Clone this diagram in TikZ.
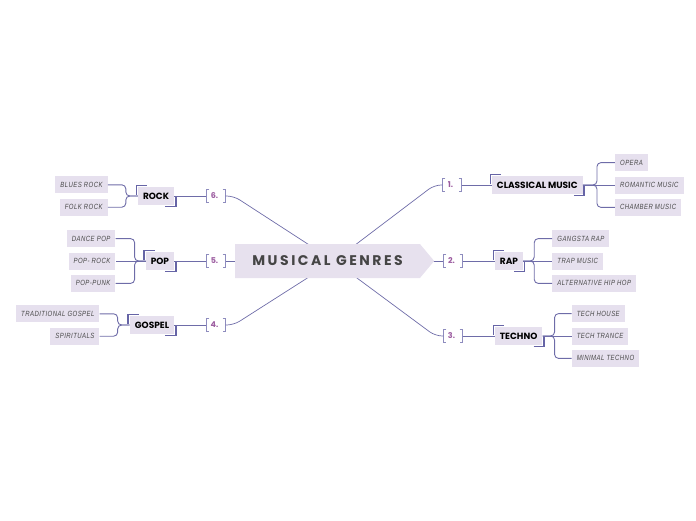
\documentclass[tikz,border=0pt]{standalone}
\usepackage{fontspec}
\setmainfont{Liberation Sans}
\newfontfamily\titlefont[LetterSpace=18]{Poppins}
\newfontfamily\topicfont{Poppins}
\newfontfamily\leaffont[LetterSpace=6,FakeStretch=0.8]{Liberation Sans}
\usepackage{xcolor}
\usetikzlibrary{
    positioning, % relative placement
    shapes.symbols % signal shape
}
\definecolor{boxfill}{HTML}{E6E0EE}
\definecolor{titlefill}{HTML}{E7E1EE}
\definecolor{linecolor}{HTML}{6E6CA8}
\definecolor{brkdark}{HTML}{6664A6}
\definecolor{brklight}{HTML}{8E8CBE}
\definecolor{numpurple}{HTML}{9B5B9F}
\definecolor{titlegray}{HTML}{454545}
\definecolor{leafgray}{HTML}{4A4A4A}

\begin{document}
\begin{tikzpicture}[
    x=1pt, y=-1pt,
    title/.style={
        signal,
        signal to=east,
        signal pointer angle=100,
        fill=titlefill,
        minimum width=199pt,
        minimum height=34pt,
        inner xsep=10pt,
        anchor=west,
        text=titlegray,
        font=\titlefont\bfseries\fontsize{14}{14}\selectfont
    },
    numlabel/.style={
        minimum width=19pt,
        minimum height=13pt,
        inner sep=0pt,
        text=numpurple,
        font=\topicfont\bfseries\fontsize{8}{8}\selectfont,
        execute at end node=\kern3pt,
        append after command={\pgfextra{
            \draw[brklight, line width=0.9pt]
                ([xshift=3pt]\tikzlastnode.north west) -- (\tikzlastnode.north west)
                -- (\tikzlastnode.south west) -- ++(3pt,0pt);
            \draw[brklight, line width=0.9pt]
                ([xshift=-3pt]\tikzlastnode.north east) -- (\tikzlastnode.north east)
                -- (\tikzlastnode.south east) -- ++(-3pt,0pt);
        }}
    },
    topic/.style={
        fill=boxfill,
        inner xsep=5pt,
        inner ysep=0pt,
        minimum height=18pt,
        font=\topicfont\bfseries\fontsize{9}{9}\selectfont,
        append after command={\pgfextra{
            \draw[brkdark, line width=1.8pt]
                ([shift={(9pt,1.3pt)}]\tikzlastnode.north west)
                -| ([shift={(-1.3pt,-8pt)}]\tikzlastnode.north west);
            \draw[brkdark, line width=1.8pt]
                ([shift={(-9pt,-1.3pt)}]\tikzlastnode.south east)
                -| ([shift={(1.3pt,8pt)}]\tikzlastnode.south east);
        }}
    },
    leaf/.style={
        fill=boxfill,
        inner xsep=5pt,
        inner ysep=0pt,
        minimum height=17pt,
        text=leafgray,
        font=\leaffont\itshape\fontsize{7.5}{7.5}\selectfont
    },
    link/.style={
        draw=linecolor,
        line width=0.7pt
    },
    branch/.style={
        draw=linecolor,
        line width=0.9pt,
        rounded corners=4pt
    }
]
\useasboundingbox (0,0) rectangle (696,520);

% Numbers
\node[numlabel] (n1) at (452,185) {1.};
\node[numlabel] (n2) at (453,261) {2.};
\node[numlabel] (n3) at (453,336) {3.};
\node[numlabel] (n4) at (216,325) {4.};
\node[numlabel] (n5) at (216,261) {5.};
\node[numlabel] (n6) at (216,196) {6.};

% Links from the centre
\coordinate (hub) at (334,261);
\draw[link, rounded corners=7pt] (hub) -- ([xshift=-8pt]n1.west) -- (n1.west);
\draw[link] (hub) -- (n2.west);
\draw[link, rounded corners=7pt] (hub) -- ([xshift=-8pt]n3.west) -- (n3.west);
\draw[link, rounded corners=7pt] (hub) -- ([xshift=8pt]n4.east) -- (n4.east);
\draw[link] (hub) -- (n5.east);
\draw[link, rounded corners=7pt] (hub) -- ([xshift=8pt]n6.east) -- (n6.east);

% Title
\node[title] (title) at (235,261) {MUSICAL GENRES};

% Genres
\node[topic, right=30pt of n1] (classical) {CLASSICAL MUSIC};
\node[topic, right=32pt of n2] (rap) {RAP};
\node[topic, right=32pt of n3] (techno) {TECHNO};
\node[topic, left=32pt of n6] (rock) {ROCK};
\node[topic, left=32pt of n5] (pop) {POP};
\node[topic, left=32pt of n4] (gospel) {GOSPEL};

% Classical music
\node[leaf, right=32pt of classical] (romantic) {ROMANTIC MUSIC};
\node[leaf, above=5pt of romantic.north west, anchor=south west] (opera) {OPERA};
\node[leaf, below=5pt of romantic.south west, anchor=north west] (chamber) {CHAMBER MUSIC};

% Rap
\node[leaf, right=29pt of rap] (trap) {TRAP MUSIC};
\node[leaf, above=5pt of trap.north west, anchor=south west] (gangsta) {GANGSTA RAP};
\node[leaf, below=5pt of trap.south west, anchor=north west] (althiphop) {ALTERNATIVE HIP HOP};

% Techno
\node[leaf, right=29pt of techno] (techtrance) {TECH TRANCE};
\node[leaf, above=5pt of techtrance.north west, anchor=south west] (techhouse) {TECH HOUSE};
\node[leaf, below=5pt of techtrance.south west, anchor=north west] (minimal) {MINIMAL TECHNO};

% Rock
\node[leaf, above left=2.5pt and 30pt of rock.west] (blues) {BLUES ROCK};
\node[leaf, below left=2.5pt and 30pt of rock.west] (folk) {FOLK ROCK};

% Pop
\node[leaf, left=30pt of pop] (poprock) {POP- ROCK};
\node[leaf, above=5pt of poprock.north east, anchor=south east] (dance) {DANCE POP};
\node[leaf, below=5pt of poprock.south east, anchor=north east] (poppunk) {POP-PUNK};

% Gospel
\node[leaf, above left=2.5pt and 30pt of gospel.west] (traditional) {TRADITIONAL GOSPEL};
\node[leaf, below left=2.5pt and 30pt of gospel.west] (spirituals) {SPIRITUALS};

% Numbers to genres
\draw[link] (n1.east) -- (classical.west);
\draw[link] (n2.east) -- (rap.west);
\draw[link] (n3.east) -- (techno.west);
\draw[link] (n4.west) -- (gospel.east);
\draw[link] (n5.west) -- (pop.east);
\draw[link] (n6.west) -- (rock.east);

% Genres to subgenres
\draw[branch] (classical.east) -- ++(14pt,0pt) |- (opera.west);
\draw[branch] (classical.east) -- (romantic.west);
\draw[branch] (classical.east) -- ++(14pt,0pt) |- (chamber.west);

\draw[branch] (rap.east) -- ++(11pt,0pt) |- (gangsta.west);
\draw[branch] (rap.east) -- (trap.west);
\draw[branch] (rap.east) -- ++(11pt,0pt) |- (althiphop.west);

\draw[branch] (techno.east) -- ++(12pt,0pt) |- (techhouse.west);
\draw[branch] (techno.east) -- (techtrance.west);
\draw[branch] (techno.east) -- ++(12pt,0pt) |- (minimal.west);

\draw[branch] (rock.west) -- ++(-12pt,0pt) |- (blues.east);
\draw[branch] (rock.west) -- ++(-12pt,0pt) |- (folk.east);

\draw[branch] (pop.west) -- ++(-11pt,0pt) |- (dance.east);
\draw[branch] (pop.west) -- (poprock.east);
\draw[branch] (pop.west) -- ++(-11pt,0pt) |- (poppunk.east);

\draw[branch] (gospel.west) -- ++(-12pt,0pt) |- (traditional.east);
\draw[branch] (gospel.west) -- ++(-12pt,0pt) |- (spirituals.east);

\end{tikzpicture}
\end{document}
